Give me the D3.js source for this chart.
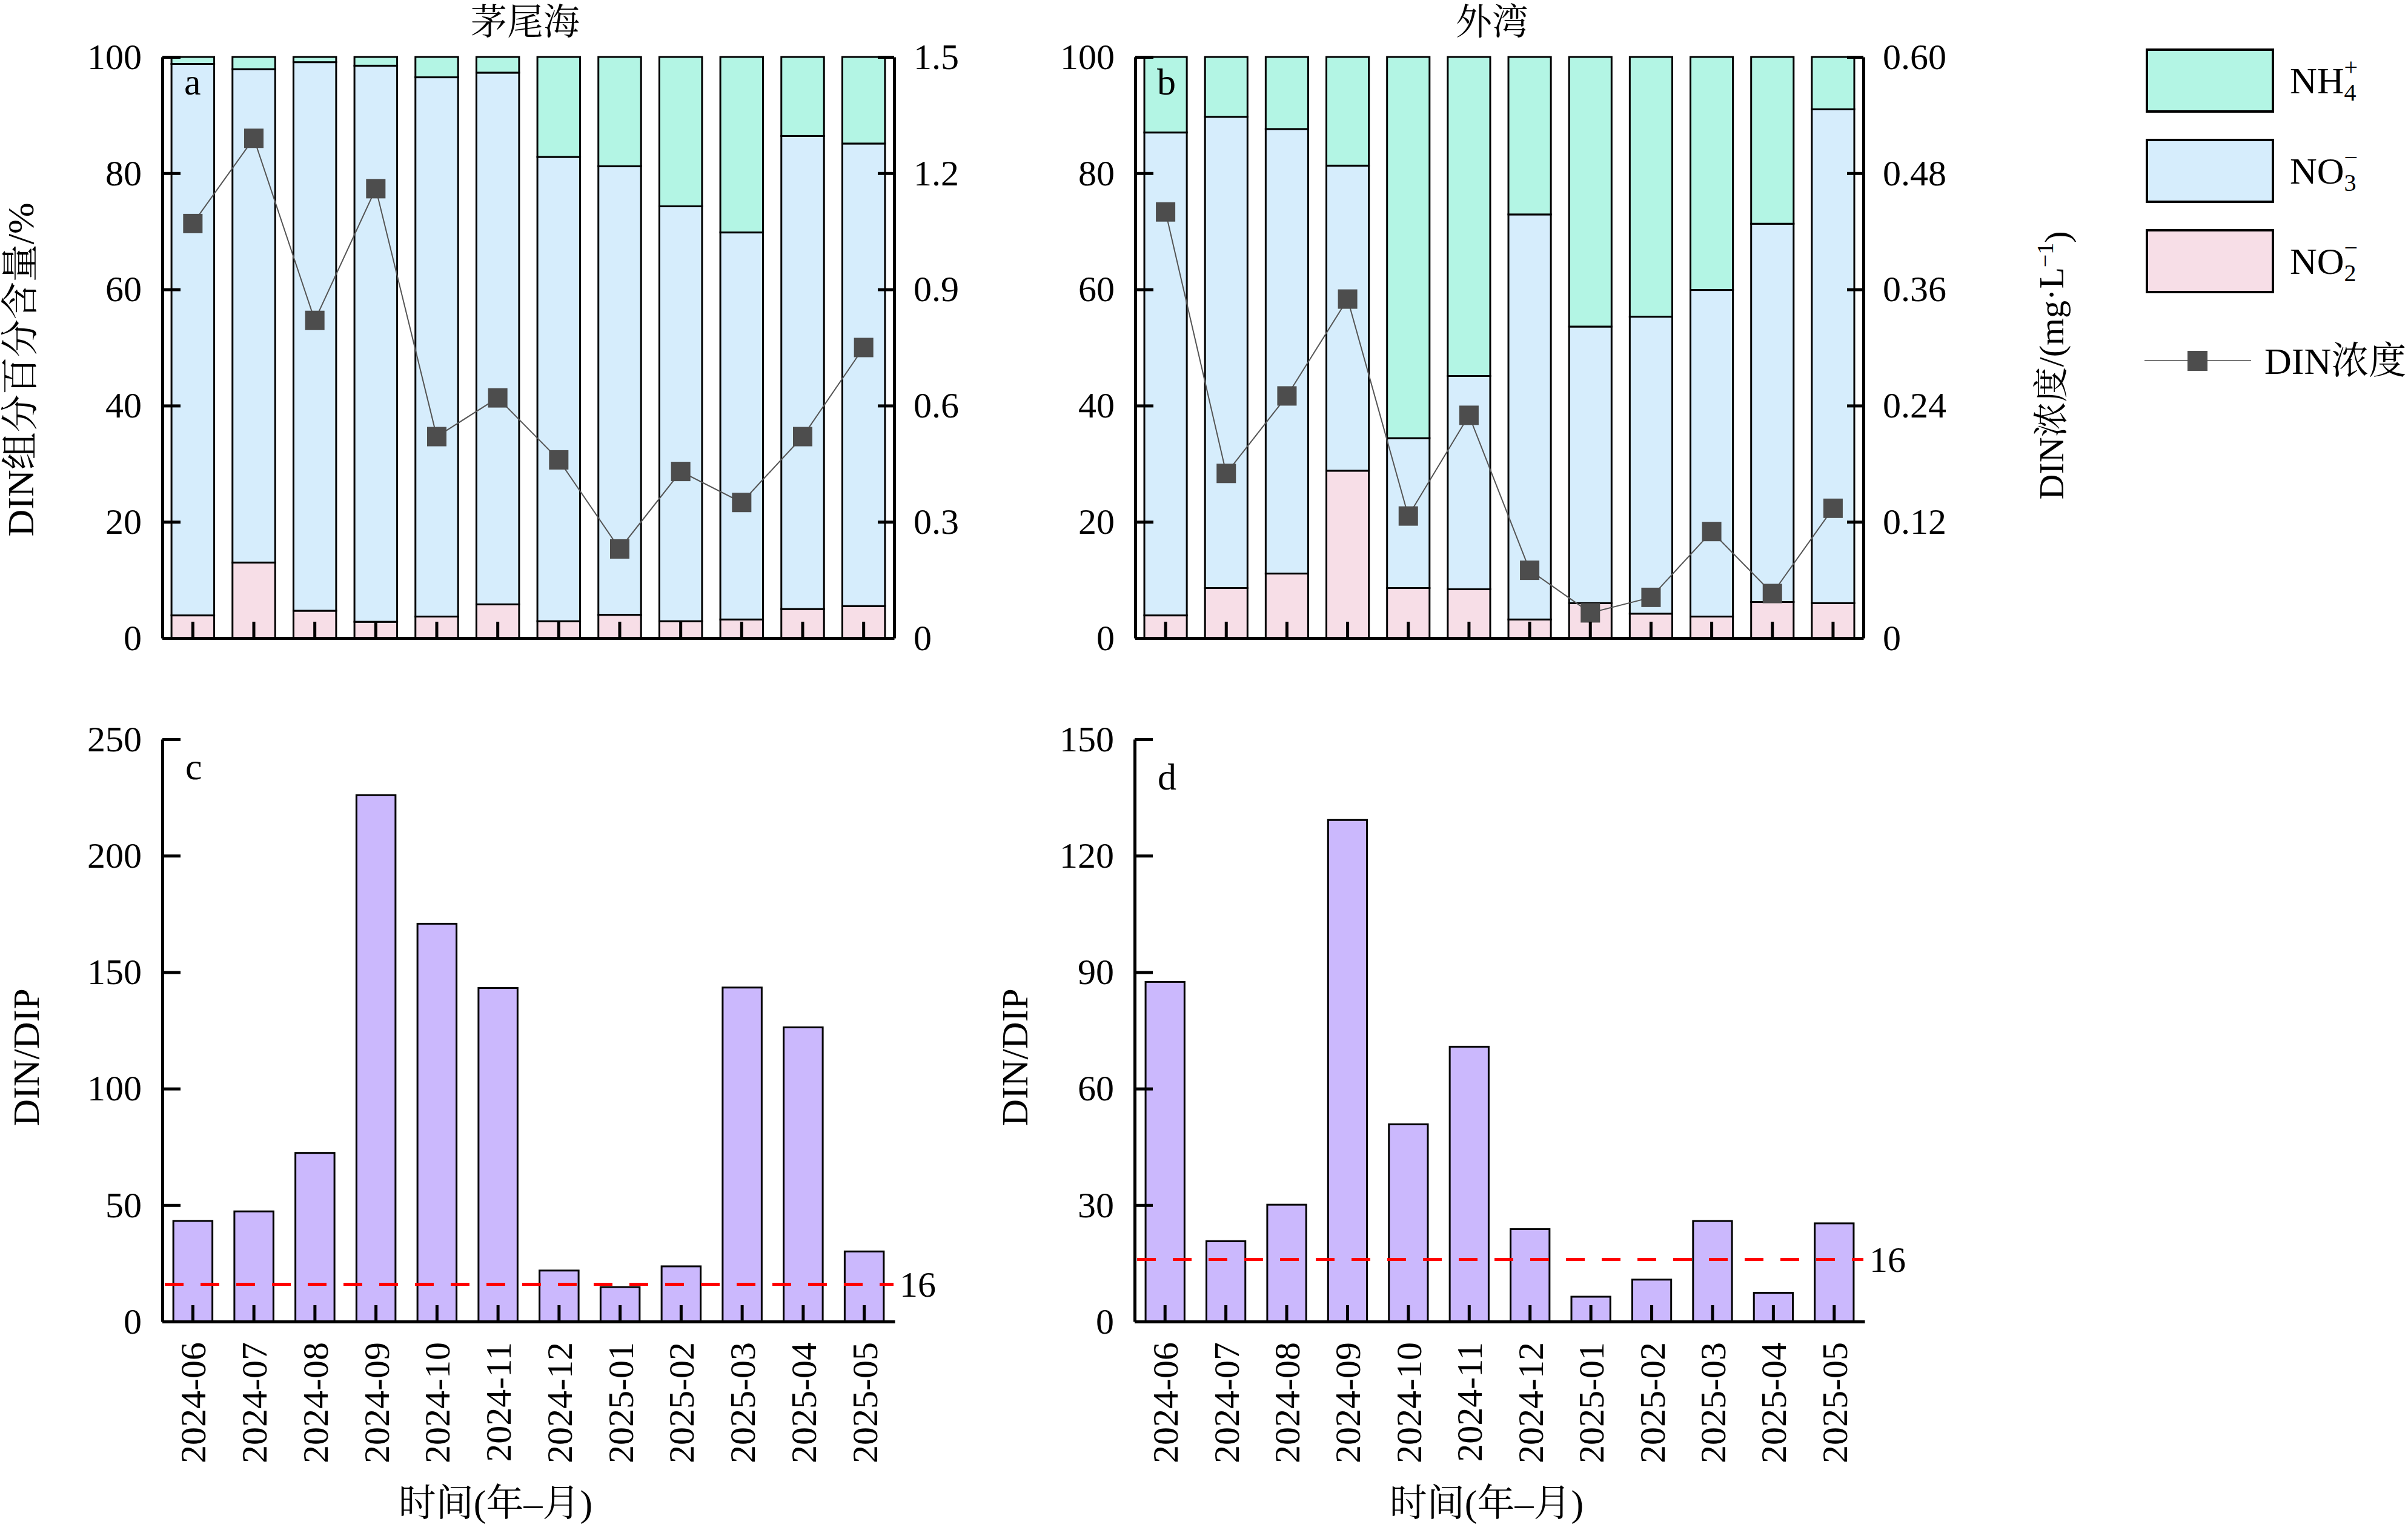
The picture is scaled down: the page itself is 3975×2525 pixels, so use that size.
<!DOCTYPE html>
<html>
<head>
<meta charset="utf-8">
<script src="https://cdn.jsdelivr.net/npm/d3@7.9.0/dist/d3.min.js"></script>
<style>
  body { margin: 0; background: #fff; }
  svg { display: block; }
</style>
</head>
<body>
<svg id="chart" width="3975" height="2525"></svg>
<script>
// months on the x axis
const months = ["2024-06", "2024-07", "2024-08", "2024-09", "2024-10", "2024-11",
  "2024-12", "2025-01", "2025-02", "2025-03", "2025-04", "2025-05"];

// 茅尾海 DIN components (%)
const maoNO2 = [3.9, 13.0, 4.7, 2.8, 3.7, 5.8, 2.9, 4.0, 2.9, 3.2, 5.0, 5.5];
const maoNO3 = [94.9, 84.9, 94.4, 95.7, 92.8, 91.5, 79.9, 77.2, 71.4, 66.6, 81.4, 79.6];
const maoNH4 = [1.2, 2.1, 0.9, 1.5, 3.5, 2.7, 17.2, 18.8, 25.7, 30.2, 13.6, 14.9];
// 茅尾海 DIN concentration (mg/L)
const maoDIN = [1.07, 1.29, 0.82, 1.16, 0.52, 0.62, 0.46, 0.23, 0.43, 0.35, 0.52, 0.75];

// 外湾 DIN components (%)
const waiNO2 = [3.9, 8.6, 11.1, 28.8, 8.6, 8.4, 3.2, 6.0, 4.2, 3.7, 6.2, 6.0];
const waiNO3 = [83.1, 81.1, 76.5, 52.5, 25.8, 36.7, 69.7, 47.6, 51.1, 56.2, 65.1, 85.0];
const waiNH4 = [13.0, 10.3, 12.4, 18.7, 65.6, 54.9, 27.1, 46.4, 44.7, 40.1, 28.7, 9.0];
// 外湾 DIN concentration (mg/L)
const waiDIN = [0.44, 0.17, 0.25, 0.35, 0.126, 0.23, 0.07, 0.026, 0.042, 0.11, 0.046, 0.134];

// DIN/DIP ratios
const maoRatio = [43.2, 47.3, 72.4, 226, 170.8, 143.2, 21.9, 14.8, 23.7, 143.4, 126.3, 30.1];
const waiRatio = [87.5, 20.7, 30.1, 129.2, 50.8, 70.8, 23.8, 6.4, 10.8, 25.9, 7.4, 25.3];
const redfield = 16;

// tick values
const pctTicks = [0, 20, 40, 60, 80, 100];
const maoDinTicks = [0, 0.3, 0.6, 0.9, 1.2, 1.5];
const waiDinTicks = [0, 0.12, 0.24, 0.36, 0.48, 0.60];
const maoRatioTicks = [0, 50, 100, 150, 200, 250];
const waiRatioTicks = [0, 30, 60, 90, 120, 150];

const serif = "'Liberation Serif', 'Times New Roman', 'Noto Serif CJK SC', 'Noto Sans CJK SC', serif";
const colors = { nh4: "#b3f5e4", no3: "#d6edfc", no2: "#f7dee7" };
const ratioFill = "#cbb8fd";

const svg = d3.select("#chart");

function styleAxis(g, fontSize = 60) {
  g.attr("font-family", serif).attr("font-size", fontSize);
  g.select(".domain").attr("stroke", "#000").attr("stroke-width", 5);
  g.selectAll(".tick line").attr("stroke", "#000").attr("stroke-width", 5);
  g.selectAll(".tick text").attr("fill", "#000");
}

function drawStackPanel(p) {
  const top = 94, bottom = 1053;
  const x = d3.scaleBand().domain(months).range([p.x0, p.x1]).paddingInner(0.3).paddingOuter(0.15);
  const y = d3.scaleLinear().domain([0, 100]).range([bottom, top]);
  const yDin = d3.scaleLinear().domain([0, d3.max(p.dinTicks)]).range([bottom, top]);

  const rows = months.map((m, i) => ({ month: m, no2: p.no2[i], no3: p.no3[i], nh4: p.nh4[i] }));
  const series = d3.stack().keys(["no2", "no3", "nh4"])(rows);

  const g = svg.append("g");
  g.selectAll("g.layer")
    .data(series)
    .join("g")
    .attr("fill", (s) => colors[s.key])
    .selectAll("rect")
    .data((s) => s)
    .join("rect")
    .attr("x", (d) => x(d.data.month))
    .attr("width", x.bandwidth())
    .attr("y", (d) => y(d[1]))
    .attr("height", (d) => y(d[0]) - y(d[1]))
    .attr("stroke", "#000")
    .attr("stroke-width", 3);

  const line = d3.line()
    .x((d, i) => x(months[i]) + x.bandwidth() / 2)
    .y((d) => yDin(d));
  g.append("path")
    .datum(p.din)
    .attr("d", line)
    .attr("fill", "none")
    .attr("stroke", "#555")
    .attr("stroke-width", 2);
  g.selectAll("rect.marker")
    .data(p.din)
    .join("rect")
    .attr("class", "marker")
    .attr("x", (d, i) => x(months[i]) + x.bandwidth() / 2 - 16)
    .attr("y", (d) => yDin(d) - 16)
    .attr("width", 32)
    .attr("height", 32)
    .attr("fill", "#4d4d4d");

  // axes
  g.append("g")
    .attr("transform", `translate(0,${bottom})`)
    .call(d3.axisBottom(x).tickSizeInner(-27).tickSizeOuter(0).tickFormat(""))
    .call(styleAxis);
  g.append("g")
    .attr("transform", `translate(${p.x0},0)`)
    .call(d3.axisLeft(y).tickValues(pctTicks).tickSizeInner(-30).tickSizeOuter(0).tickPadding(34))
    .call(styleAxis);
  g.append("g")
    .attr("transform", `translate(${p.x1},0)`)
    .call(d3.axisRight(yDin).tickValues(p.dinTicks).tickSizeInner(-27).tickSizeOuter(0)
      .tickPadding(32).tickFormat(p.dinFmt))
    .call(styleAxis);

  g.append("text")
    .attr("x", p.titleX)
    .attr("y", 36)
    .attr("dy", "0.35em")
    .attr("text-anchor", "middle")
    .attr("font-family", serif)
    .attr("font-size", 60)
    .text(p.title);
  g.append("text")
    .attr("x", p.x0 + 36)
    .attr("y", 156)
    .attr("font-family", serif)
    .attr("font-size", 62)
    .text(p.letter);
}

function drawRatioPanel(p) {
  const top = 1220, bottom = 2181;
  const x = d3.scaleBand().domain(months).range([p.x0, p.x1]).paddingInner(0.36).paddingOuter(0.18);
  const y = d3.scaleLinear().domain([0, d3.max(p.ticks)]).range([bottom, top]);

  const g = svg.append("g");
  g.selectAll("rect.bar")
    .data(p.values)
    .join("rect")
    .attr("class", "bar")
    .attr("x", (d, i) => x(months[i]))
    .attr("width", x.bandwidth())
    .attr("y", (d) => y(d))
    .attr("height", (d) => bottom - y(d))
    .attr("fill", ratioFill)
    .attr("stroke", "#000")
    .attr("stroke-width", 3);

  g.append("line")
    .attr("x1", p.x0 + 4)
    .attr("x2", p.x1 - 2)
    .attr("y1", y(redfield))
    .attr("y2", y(redfield))
    .attr("stroke", "#ff0000")
    .attr("stroke-width", 5)
    .attr("stroke-dasharray", "31,28");
  g.append("text")
    .attr("x", p.x1 + 8)
    .attr("y", y(redfield))
    .attr("dy", "0.35em")
    .attr("font-family", serif)
    .attr("font-size", 60)
    .text(redfield);

  const xAxis = g.append("g")
    .attr("transform", `translate(0,${bottom})`)
    .call(d3.axisBottom(x).tickSizeInner(-27).tickSizeOuter(0))
    .call(styleAxis);
  xAxis.selectAll(".tick text")
    .attr("y", 0)
    .attr("x", -34)
    .attr("dy", "0.35em")
    .attr("transform", "rotate(-90)")
    .attr("text-anchor", "end");
  g.append("g")
    .attr("transform", `translate(${p.x0},0)`)
    .call(d3.axisLeft(y).tickValues(p.ticks).tickSizeInner(-30).tickSizeOuter(0).tickPadding(34))
    .call(styleAxis);

  g.append("text")
    .attr("transform", `translate(${p.titleX},1745) rotate(-90)`)
    .attr("dy", "0.35em")
    .attr("text-anchor", "middle")
    .attr("font-family", serif)
    .attr("font-size", 62)
    .text("DIN/DIP");
  g.append("text")
    .attr("x", p.timeX)
    .attr("y", 2502)
    .attr("text-anchor", "middle")
    .attr("font-family", serif)
    .attr("font-size", 62)
    .text("时间(年–月)");
  g.append("text")
    .attr("x", p.x0 + 38)
    .attr("y", p.letterY)
    .attr("font-family", serif)
    .attr("font-size", 62)
    .text(p.letter);
}

drawStackPanel({
  x0: 268, x1: 1476, no2: maoNO2, no3: maoNO3, nh4: maoNH4, din: maoDIN,
  dinTicks: maoDinTicks, dinFmt: d3.format(""), title: "茅尾海", titleX: 867, letter: "a"
});
drawStackPanel({
  x0: 1874, x1: 3076, no2: waiNO2, no3: waiNO3, nh4: waiNH4, din: waiDIN,
  dinTicks: waiDinTicks, dinFmt: (d) => (d === 0 ? "0" : d3.format(".2f")(d)),
  title: "外湾", titleX: 2463, letter: "b"
});
drawRatioPanel({
  x0: 268, x1: 1477, values: maoRatio, ticks: maoRatioTicks,
  titleX: 42, timeX: 818, letter: "c", letterY: 1286
});
drawRatioPanel({
  x0: 1873, x1: 3078, values: waiRatio, ticks: waiRatioTicks,
  titleX: 1674, timeX: 2454, letter: "d", letterY: 1303
});

// y axis titles for the top row
svg.append("text")
  .attr("transform", "translate(33,610) rotate(-90)")
  .attr("dy", "0.35em")
  .attr("text-anchor", "middle")
  .attr("font-family", serif)
  .attr("font-size", 62)
  .text("DIN组分百分含量/%");

const rightTitle = svg.append("text")
  .attr("transform", "translate(3386,603) rotate(-90)")
  .attr("dy", "0.35em")
  .attr("text-anchor", "middle")
  .attr("font-family", serif)
  .attr("font-size", 58);
rightTitle.append("tspan").text("DIN浓度/(mg·L");
rightTitle.append("tspan").attr("dy", "-0.45em").attr("font-size", 38).text("−1");
rightTitle.append("tspan").attr("dy", "0.45em").text(")");

// legend
const legendItems = [
  { key: "nh4", base: "NH", sub: "4", sup: "+", y: 82 },
  { key: "no3", base: "NO", sub: "3", sup: "−", y: 231 },
  { key: "no2", base: "NO", sub: "2", sup: "−", y: 380 }
];
const legend = svg.append("g").attr("font-family", serif);
legendItems.forEach((d) => {
  legend.append("rect")
    .attr("x", 3544).attr("y", d.y)
    .attr("width", 208).attr("height", 102)
    .attr("fill", colors[d.key])
    .attr("stroke", "#000")
    .attr("stroke-width", 4);
  const t = legend.append("text")
    .attr("x", 3780).attr("y", d.y + 72)
    .attr("font-size", 62);
  t.append("tspan").text(d.base);
  const baseW = t.node().getComputedTextLength();
  t.append("tspan").attr("font-size", 40).attr("dy", 12).text(d.sub);
  t.append("tspan").attr("font-size", 40).attr("x", 3780 + baseW).attr("dy", -42).text(d.sup);
});
legend.append("line")
  .attr("x1", 3540).attr("x2", 3716)
  .attr("y1", 595).attr("y2", 595)
  .attr("stroke", "#777").attr("stroke-width", 2);
legend.append("rect")
  .attr("x", 3611).attr("y", 579)
  .attr("width", 33).attr("height", 33)
  .attr("fill", "#4d4d4d");
legend.append("text")
  .attr("x", 3738).attr("y", 595)
  .attr("dy", "0.35em")
  .attr("font-size", 62)
  .text("DIN浓度");
</script>
</body>
</html>
